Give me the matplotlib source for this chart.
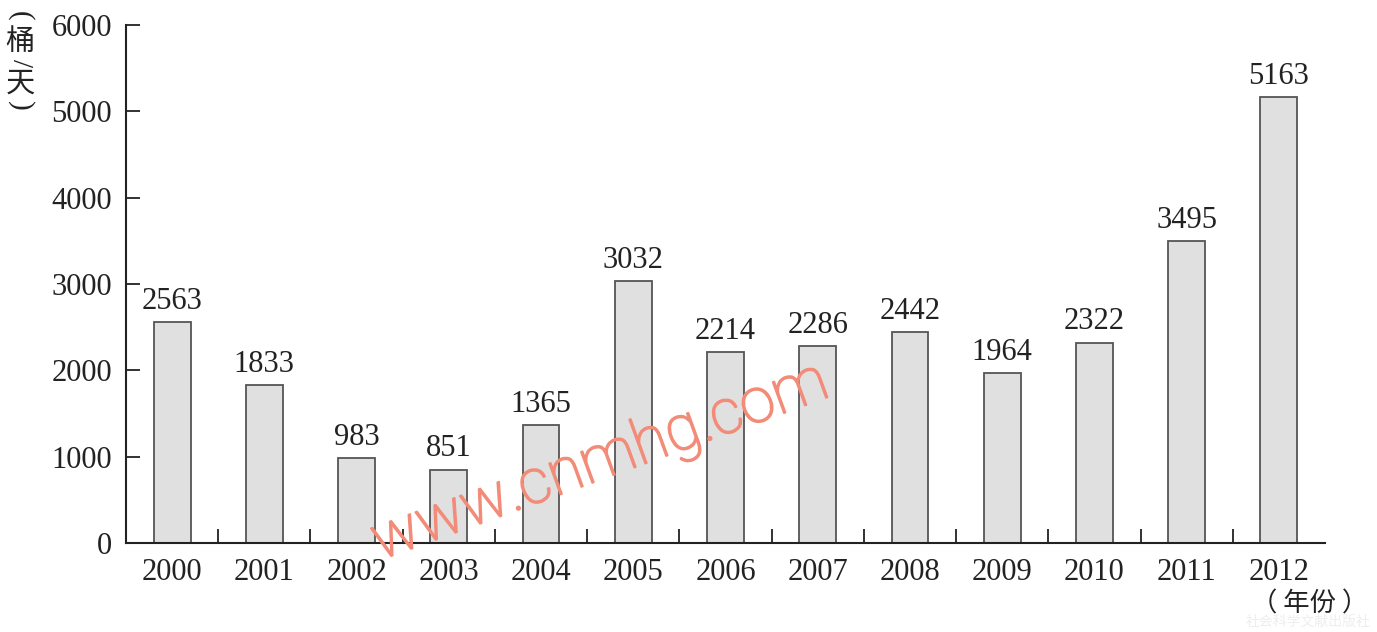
import matplotlib.pyplot as plt
import matplotlib.patheffects as pe
import numpy as np

plt.rcParams['font.family'] = ['Liberation Serif', 'Noto Sans CJK SC', 'DejaVu Sans']

# ------------------------------------------------------------
# DATA
# ------------------------------------------------------------
years = ['2000', '2001', '2002', '2003', '2004', '2005', '2006',
         '2007', '2008', '2009', '2010', '2011', '2012']
values = [2563, 1833, 983, 851, 1365, 3032, 2214, 2286, 2442, 1964, 2322, 3495, 5163]
y_ticks = [0, 1000, 2000, 3000, 4000, 5000, 6000]

# ------------------------------------------------------------
# CHART
# ------------------------------------------------------------
fig = plt.figure(figsize=(13.77, 6.32), dpi=100)
ax = fig.add_axes([126 / 1377, 1 - 543 / 632, 1199 / 1377, 518 / 632])

x = np.arange(len(years))
ax.bar(x, values, width=0.4, color='#e0e0e0', edgecolor='#555555', linewidth=1.3)

for xi, v in zip(x, values):
    ax.text(xi, v + 70, str(v), ha='center', va='bottom', fontsize=22, color='#222222')

ax.set_xlim(-0.5, len(years) - 0.5)
ax.set_ylim(0, 6000)
ax.set_yticks(y_ticks)
ax.set_yticklabels([str(t) for t in y_ticks], fontsize=22, color='#222222')

# category labels at bar centres, tick marks between bars
ax.set_xticks(x)
ax.set_xticklabels(years, fontsize=22, color='#222222')
ax.tick_params(axis='x', length=0, pad=11)
ax.set_xticks(np.arange(0.5, len(years) - 1, 1), minor=True)
ax.tick_params(axis='x', which='minor', direction='in', length=10, width=1.3, color='#222222')
ax.tick_params(axis='y', direction='in', length=10, width=1.3, color='#222222', pad=10)

for side in ['top', 'right']:
    ax.spines[side].set_visible(False)
for side in ['left', 'bottom']:
    ax.spines[side].set_linewidth(1.5)
    ax.spines[side].set_color('#222222')

# y axis title, written top-down (brackets and slash turned sideways)
cjk = ['Noto Sans CJK SC', 'DejaVu Sans']
ylab = [('(', 16, -90, 'Liberation Serif'), ('桶', 42, 0, cjk), ('/', 63, -90, 'Liberation Serif'),
        ('天', 84, 0, cjk), (')', 106, -90, 'Liberation Serif')]
for ch, yy, rot, fam in ylab:
    fig.text(20 / 1377, 1 - yy / 632, ch, ha='center', va='center', fontsize=21,
             rotation=rot, family=fam, color='#222222')
fig.text(1310 / 1377, 1 - 604 / 632, '（ 年份 ）', ha='center', va='center',
         fontsize=19, family=cjk, color='#222222')

# watermark
wm = '#f28b78'
fig.text(600 / 1377, 1 - 462 / 632, 'www.cnmhg.com', ha='center', va='center',
         fontsize=45, rotation=20, color=wm, family='Roboto', fontweight='light',
         path_effects=[pe.withStroke(linewidth=1.3, foreground=wm)])
fig.text(1308 / 1377, 1 - 622 / 632, '社会科学文献出版社', ha='center', va='center',
         fontsize=10, color='#eeeeee', family=['Noto Sans CJK SC'])

plt.savefig('out.png', dpi=100)
